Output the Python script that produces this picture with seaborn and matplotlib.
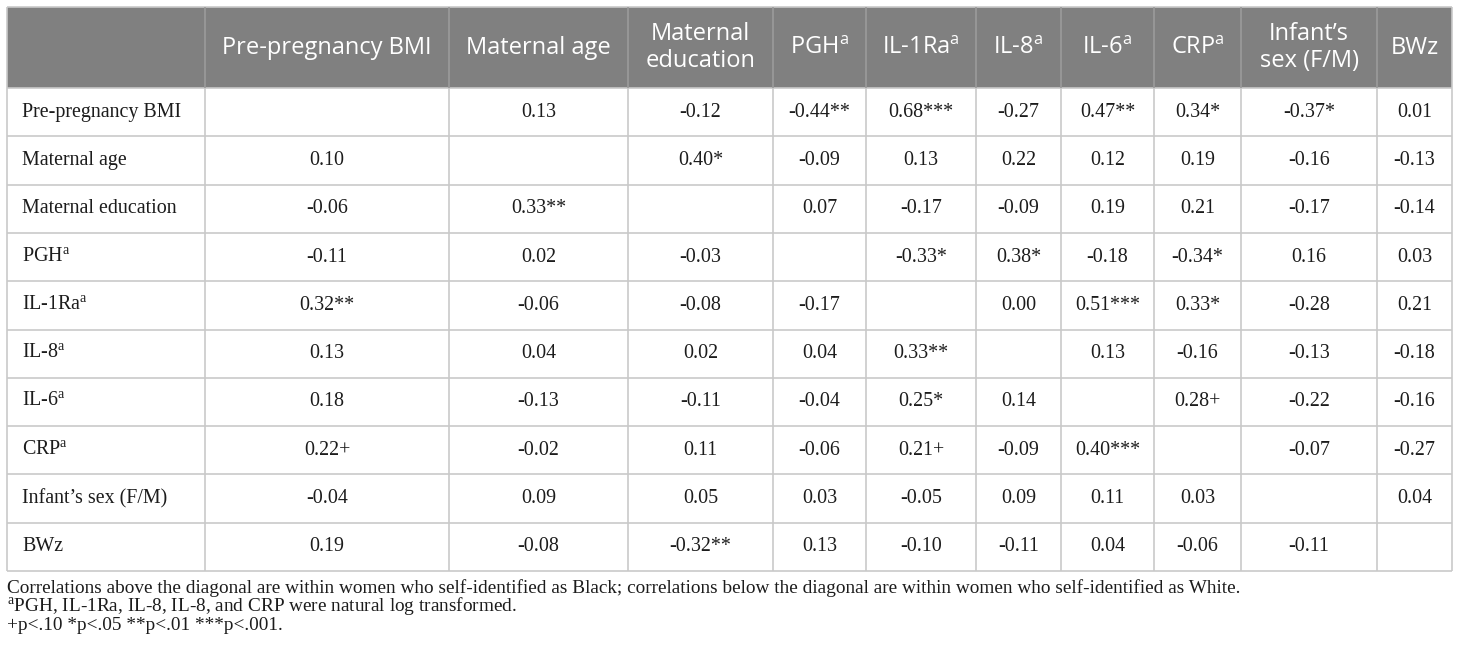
import numpy as np
import pandas as pd
import matplotlib
matplotlib.use('Agg')
import matplotlib.pyplot as plt
import seaborn as sns
from matplotlib.patches import Rectangle

# variables (rows and columns of the correlation table)
row_labels = ['Pre-pregnancy BMI', 'Maternal age', 'Maternal education', 'PGH', 'IL-1Ra',
              'IL-8', 'IL-6', 'CRP', 'Infant\u2019s sex (F/M)', 'BWz']
col_labels = ['Pre-pregnancy BMI', 'Maternal age', 'Maternal\neducation', 'PGH', 'IL-1Ra',
              'IL-8', 'IL-6', 'CRP', 'Infant\u2019s\nsex (F/M)', 'BWz']
log_transformed = [False, False, False, True, True, True, True, True, False, False]

# above the diagonal: women who self-identified as Black (row i, columns i+1..)
black_upper = [
    ['0.13', '-0.12', '-0.44**', '0.68***', '-0.27', '0.47**', '0.34*', '-0.37*', '0.01'],
    ['0.40*', '-0.09', '0.13', '0.22', '0.12', '0.19', '-0.16', '-0.13'],
    ['0.07', '-0.17', '-0.09', '0.19', '0.21', '-0.17', '-0.14'],
    ['-0.33*', '0.38*', '-0.18', '-0.34*', '0.16', '0.03'],
    ['0.00', '0.51***', '0.33*', '-0.28', '0.21'],
    ['0.13', '-0.16', '-0.13', '-0.18'],
    ['0.28+', '-0.22', '-0.16'],
    ['-0.07', '-0.27'],
    ['0.04'],
    [],
]
# below the diagonal: women who self-identified as White (row i, columns 0..i-1)
white_lower = [
    [],
    ['0.10'],
    ['-0.06', '0.33**'],
    ['-0.11', '0.02', '-0.03'],
    ['0.32**', '-0.06', '-0.08', '-0.17'],
    ['0.13', '0.04', '0.02', '0.04', '0.33**'],
    ['0.18', '-0.13', '-0.11', '-0.04', '0.25*', '0.14'],
    ['0.22+', '-0.02', '0.11', '-0.06', '0.21+', '-0.09', '0.40***'],
    ['-0.04', '0.09', '0.05', '0.03', '-0.05', '0.09', '0.11', '0.03'],
    ['0.19', '-0.08', '-0.32**', '0.13', '-0.10', '-0.11', '0.04', '-0.06', '-0.11'],
]

SUP_A = r'$^{\mathregular{a}}$'
notes = [
    'Correlations above the diagonal are within women who self-identified as Black; '
    'correlations below the diagonal are within women who self-identified as White.',
    SUP_A + 'PGH, IL-1Ra, IL-8, IL-8, and CRP were natural log transformed.',
    '+p<.10 *p<.05 **p<.01 ***p<.001.',
]

n = len(row_labels)
table = pd.DataFrame([white_lower[i] + [''] + black_upper[i] for i in range(n)],
                     index=row_labels, columns=row_labels)

sns.set_theme(style='white')
plt.rcParams['font.family'] = ['Liberation Serif', 'DejaVu Serif']

# layout (pixels)
col_edges = [7, 205, 449, 628, 773, 866, 976, 1061, 1154, 1241, 1377, 1452]
top, head_bottom, bottom = 7, 88, 571
row_edges = np.linspace(head_bottom, bottom, n + 1)
header_grey = '#808080'
line_grey = '#c9c9c9'
text_col = '#1c1c1c'
head_font = ['Open Sans', 'DejaVu Sans']
body_size = 14.4
head_size = 17


def label(text, marked):
    return text + SUP_A if marked else text


fig = plt.figure(figsize=(14.6, 6.58), dpi=100)
ax = fig.add_axes([0, 0, 1, 1])
ax.set_xlim(0, 1460)
ax.set_ylim(658, 0)
ax.axis('off')

# header band and grid
ax.add_patch(Rectangle((col_edges[0], top), col_edges[-1] - col_edges[0], head_bottom - top,
                       facecolor=header_grey, edgecolor='none', zorder=0))
ax.hlines(row_edges, col_edges[0], col_edges[-1], color=line_grey, lw=1.2)
ax.hlines(top, col_edges[0], col_edges[-1], color=line_grey, lw=1.2)
ax.vlines(col_edges[1:-1], head_bottom, bottom, color=line_grey, lw=1.2)
ax.vlines(col_edges[1:-1], top, head_bottom, color='#9b9b9b', lw=1.2)
ax.vlines([col_edges[0], col_edges[-1]], top, bottom, color=line_grey, lw=1.2)

# column headers
hy = (top + head_bottom) / 2
for j, lab in enumerate(col_labels):
    cx = (col_edges[j + 1] + col_edges[j + 2]) / 2
    ax.text(cx, hy, label(lab, log_transformed[j]), ha='center', va='center',
            fontsize=head_size, color='white', family=head_font, linespacing=1.22)

# row labels and cells
for i, lab in enumerate(row_labels):
    cy = (row_edges[i] + row_edges[i + 1]) / 2
    ax.text(22, cy, label(lab, log_transformed[i]), ha='left', va='center',
            fontsize=body_size, color=text_col)
    for j, val in enumerate(table.iloc[i]):
        if val:
            cx = (col_edges[j + 1] + col_edges[j + 2]) / 2
            ax.text(cx, cy, val, ha='center', va='center', fontsize=body_size, color=text_col)

# footnotes
note_y = [588, 607, 626]
note_size = 13.9
for y, note in zip(note_y, notes):
    ax.text(7, y, note, ha='left', va='center', fontsize=note_size, color=text_col)

fig.savefig('out.png', dpi=100, facecolor='white')
